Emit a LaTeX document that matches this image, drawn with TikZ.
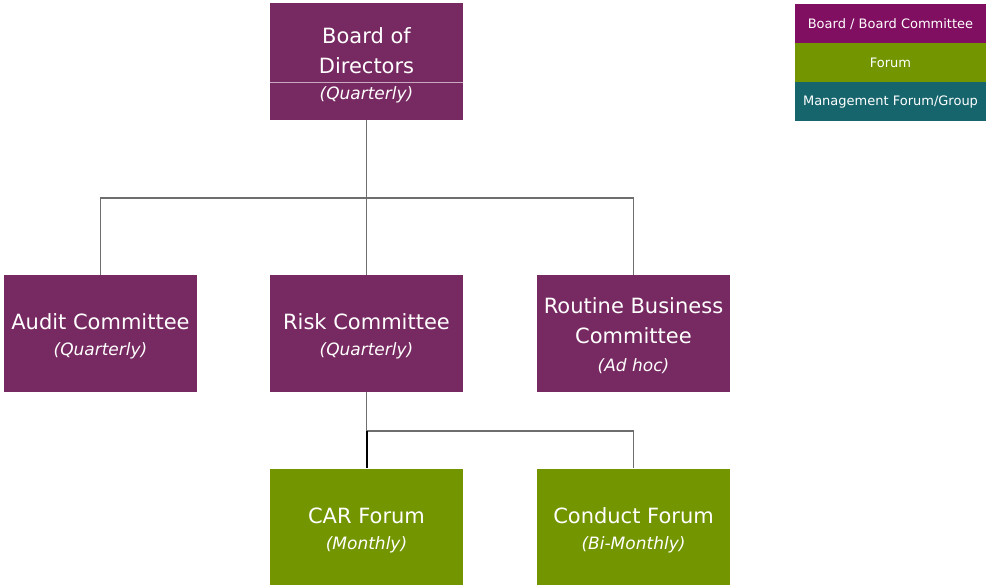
\documentclass[tikz,border=0pt]{standalone}
\usepackage{fontspec}
\setmainfont{DejaVu Sans}
\definecolor{boardc}{HTML}{772961}
\definecolor{legboard}{HTML}{800F61}
\definecolor{forumc}{HTML}{739600}
\definecolor{mgmtc}{HTML}{16656D}
\definecolor{linec}{HTML}{6E6E6E}
\begin{document}
\begin{tikzpicture}[x=1pt,y=-1pt,
  box/.style={rectangle,draw=none,minimum width=193pt,minimum height=117pt,inner sep=0pt},
  board/.style={box,fill=boardc},
  forum/.style={box,fill=forumc},
  maintxt/.style={text=white,align=center,font=\fontsize{21}{30}\selectfont},
  subtxt/.style={text=white,align=center,font=\fontsize{17}{20}\selectfont\itshape},
  legbox/.style={rectangle,minimum width=191pt,minimum height=39pt,inner sep=0pt,text=white,font=\fontsize{13}{15}\selectfont},
  conn/.style={draw=linec,line width=1.8pt}
]
\useasboundingbox (0,0) rectangle (986,585);
% boxes
\node[board] (bod) at (366.5,61.5) {};
\node[board] (audit) at (100.5,333.5) {};
\node[board] (risk) at (366.5,333.5) {};
\node[board] (rbc) at (633.5,333.5) {};
\node[forum] (car) at (366.5,527) {};
\node[forum] (cond) at (633.5,527) {};
\draw[white!60!boardc,line width=0.8pt] (270,82.5) -- (463,82.5);
% texts
\node[maintxt] (bodt) at (366.5,51) {Board of\\Directors};
\node[subtxt] (bods) at (366.5,95) {(Quarterly)};
\node[maintxt] (auditt) at (100.5,322) {Audit Committee};
\node[subtxt] (audits) at (100.5,351) {(Quarterly)};
\node[maintxt] (riskt) at (366.5,322) {Risk Committee};
\node[subtxt] (risks) at (366.5,351) {(Quarterly)};
\node[maintxt] (rbct) at (633.5,321) {Routine Business\\Committee};
\node[subtxt] (rbcs) at (633.5,366) {(Ad hoc)};
\node[maintxt] (cart) at (366.5,516) {CAR Forum};
\node[subtxt] (cars) at (366.5,545) {(Monthly)};
\node[maintxt] (condt) at (633.5,516) {Conduct Forum};
\node[subtxt] (conds) at (633.5,545) {(Bi-Monthly)};
% legend
\node[legbox,fill=legboard] (l1) at (890.5,24) {Board / Board Committee};
\node[legbox,fill=forumc] (l2) at (890.5,63) {Forum};
\node[legbox,fill=mgmtc] (l3) at (890.5,102) {Management Forum/Group};
% connectors
\coordinate (j1) at (366.5,198);
\coordinate (j2) at (366.5,431);
\draw[conn] (bod.south) -- (j1);
\draw[conn] (j1) -| (audit.north);
\draw[conn] (j1) -- (risk.north);
\draw[conn] (j1) -| (rbc.north);
\draw[conn] (risk.south) -- (j2);
\draw[conn] (j2) -| (cond.north);
\draw[draw=black,line width=2pt] (j2) -- (car.north);
\end{tikzpicture}
\end{document}
